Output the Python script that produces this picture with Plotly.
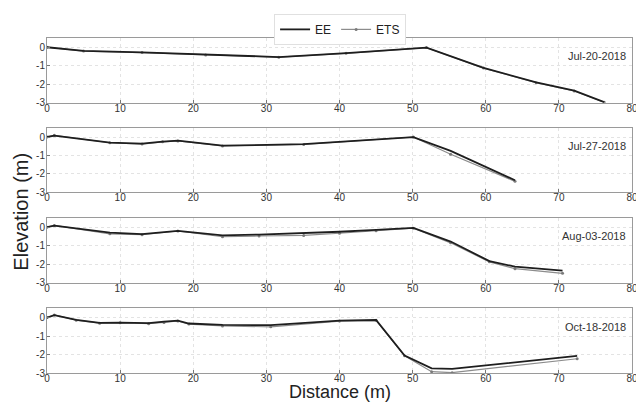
import plotly.graph_objects as go

dates = ["Jul-20-2018", "Jul-27-2018", "Aug-03-2018", "Oct-18-2018"]

# Jul-20-2018
d1_x = [0, 5, 13, 21.7, 31.7, 40.9, 51.9, 59.7, 66.9, 72.1, 76.2]
d1_ee = [0.0, -0.2, -0.28, -0.41, -0.53, -0.32, -0.02, -1.12, -1.9, -2.35, -2.97]
d1_ets = [0.0, -0.21, -0.29, -0.42, -0.54, -0.33, -0.02, -1.13, -1.92, -2.37, -2.98]

# Jul-27-2018
d2_x = [0, 1, 8.6, 13, 15.8, 17.9, 24, 35.1, 50.1, 55.2, 64]
d2_ee = [0.0, 0.07, -0.3, -0.36, -0.25, -0.2, -0.47, -0.39, -0.01, -0.75, -2.34]
d2_ets = [0.0, 0.09, -0.31, -0.38, -0.26, -0.21, -0.48, -0.4, 0.0, -0.93, -2.4]

# Aug-03-2018
d3_x = [0, 1, 8.6, 13, 17.9, 24, 29, 35.1, 40, 45, 50.1, 55.2, 60.5, 64, 70.5]
d3_ee = [0.0, 0.08, -0.3, -0.38, -0.2, -0.45, -0.4, -0.33, -0.25, -0.15, -0.04, -0.78, -1.84, -2.14, -2.36]
d3_ets = [0.0, 0.09, -0.36, -0.41, -0.21, -0.52, -0.48, -0.45, -0.33, -0.2, -0.06, -0.85, -1.88, -2.25, -2.5]

# Oct-18-2018
d4_x = [0, 1, 4, 7.2, 10, 13.9, 16, 17.9, 19.4, 24, 30.6, 40, 45, 48.9, 52.6, 55.4, 72.5]
d4_ee = [0.0, 0.13, -0.13, -0.29, -0.27, -0.3, -0.22, -0.16, -0.32, -0.4, -0.41, -0.16, -0.13, -2.05, -2.75, -2.78, -2.07]
d4_ets = [0.0, 0.14, -0.14, -0.3, -0.28, -0.33, -0.26, -0.18, -0.35, -0.45, -0.5, -0.19, -0.15, -2.07, -2.93, -2.98, -2.23]

series = [(d1_x, d1_ee, d1_ets), (d2_x, d2_ee, d2_ets), (d3_x, d3_ee, d3_ets), (d4_x, d4_ee, d4_ets)]

x_ticks = [0, 10, 20, 30, 40, 50, 60, 70, 80]
y_ticks = [0, -1, -2, -3]

domains = [[0.807, 1.0], [0.539, 0.732], [0.27, 0.463], [0.0, 0.193]]

fig = go.Figure()
FONT = "Liberation Sans, Arial, sans-serif"

for i, (xs, ee, ets) in enumerate(series):
    n = i + 1
    xa = "x" if n == 1 else f"x{n}"
    ya = "y" if n == 1 else f"y{n}"
    fig.add_trace(go.Scatter(x=xs, y=ets, mode="lines+markers", name="ETS",
                             line=dict(color="#8c8c8c", width=1.2),
                             marker=dict(size=3, color="#7a7a7a"),
                             xaxis=xa, yaxis=ya, showlegend=(n == 1)))
    fig.add_trace(go.Scatter(x=xs, y=ee, mode="lines", name="EE",
                             line=dict(color="#1e1e1e", width=1.8),
                             xaxis=xa, yaxis=ya, showlegend=(n == 1)))
    axis_common = dict(showline=True, linecolor="#9a9a9a", linewidth=1, mirror=True,
                       showgrid=True, gridcolor="#e3e3e3", griddash="dot", gridwidth=1,
                       zeroline=False, ticks="inside", ticklen=3, tickcolor="#777",
                       tickfont=dict(family=FONT, size=10, color="#333"))
    fig.layout[f"xaxis{'' if n == 1 else n}"] = dict(
        anchor=ya, domain=[0, 1], range=[0, 80], tickvals=x_ticks,
        ticktext=[str(v) for v in x_ticks], ticklabelstandoff=-4,
        ticklabeloverflow="allow", **axis_common)
    fig.layout[f"yaxis{'' if n == 1 else n}"] = dict(
        anchor=xa, domain=domains[i], range=[-3, 0.5], tickvals=y_ticks,
        ticktext=[str(v) for v in y_ticks], ticklabelstandoff=-1, **axis_common)
    fig.add_annotation(x=79.4, y=-0.5, xref=xa, yref=ya, text=dates[i],
                       showarrow=False, xanchor="right", yanchor="middle",
                       font=dict(family=FONT, size=11, color="#333"))

fig.add_annotation(x=-0.0448, y=0.481, xref="paper", yref="paper", text="Elevation (m)",
                   textangle=-90, showarrow=False, xanchor="center", yanchor="middle",
                   font=dict(family=FONT, size=20, color="#222"))
fig.add_annotation(x=0.5, y=-0.057, xref="paper", yref="paper", text="Distance (m)",
                   showarrow=False, xanchor="center", yanchor="middle",
                   font=dict(family=FONT, size=18, color="#222"))

# the page body adds an 8px offset, so the figure is sized to fit the 644x402 window
fig.update_layout(
    width=636, height=394,
    margin=dict(l=38.5, r=6, t=26, b=29),
    paper_bgcolor="white", plot_bgcolor="white",
    legend=dict(orientation="h", x=0.501, xanchor="center", y=1.072, yanchor="top",
                bordercolor="#e0e0e0", borderwidth=1, bgcolor="white",
                traceorder="reversed",
                font=dict(family=FONT, size=12, color="#222"),
                itemwidth=30, tracegroupgap=0),
)

fig.write_html("out.html")
